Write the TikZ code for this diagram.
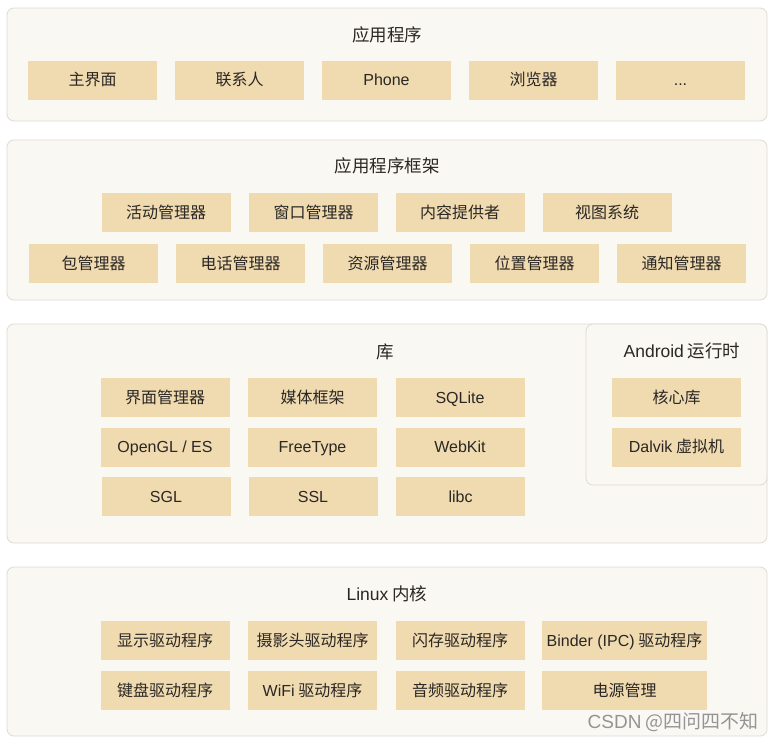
\documentclass[tikz,border=0pt]{standalone}
\usepackage{fontspec}
\setmainfont{Noto Sans CJK SC}
\newfontfamily\latf{Liberation Sans}
\newcommand{\lt}[1]{{\latf #1}}
\definecolor{panelfill}{HTML}{FAF8F2}
\definecolor{paneldraw}{HTML}{DEDBD3}
\definecolor{boxfill}{HTML}{F0DAB0}
\definecolor{txt}{HTML}{2A2724}
\begin{document}
\begin{tikzpicture}[x=1pt,y=-1pt,
  panel/.style={draw=paneldraw,fill=panelfill,rounded corners=7pt,line width=0.8pt},
  title/.style={text=txt,font=\fontsize{17.5}{20}\selectfont,inner sep=0pt,text height=14pt,text depth=2pt},
  bx/.style={fill=boxfill,text=txt,font=\fontsize{16}{19}\selectfont,inner sep=0pt,text height=13pt,text depth=2pt,minimum height=39pt,minimum width=129pt},
  wide/.style={bx,minimum width=165pt}]
\useasboundingbox (0,0) rectangle (774,742);
\fill[white] (0,0) rectangle (774,742);
% panel 1
\draw[panel] (7,8) rectangle (767,121);
\node[title] (t1) at (387,35) {应用程序};
\node[bx] (a1) at (92.5,80) {主界面};
\node[bx] (a2) at (239.5,80) {联系人};
\node[bx] (a3) at (386.5,80) {\lt{Phone}};
\node[bx] (a4) at (533.5,80) {浏览器};
\node[bx] (a5) at (680.5,80) {\lt{...}};
% panel 2
\draw[panel] (7,140) rectangle (767,300);
\node[title] (t2) at (387,166) {应用程序框架};
\node[bx] (f1) at (166,212.5) {活动管理器};
\node[bx] (f2) at (313.5,212.5) {窗口管理器};
\node[bx] (f3) at (460,212.5) {内容提供者};
\node[bx] (f4) at (607,212.5) {视图系统};
\node[bx] (g1) at (93.5,263.5) {包管理器};
\node[bx] (g2) at (240.5,263.5) {电话管理器};
\node[bx] (g3) at (387.5,263.5) {资源管理器};
\node[bx] (g4) at (534.5,263.5) {位置管理器};
\node[bx] (g5) at (681.5,263.5) {通知管理器};
% panel 3
\draw[panel] (7,324) rectangle (767,543);
\node[title] (t3) at (385,352) {库};
\node[bx] (l1) at (165,397.5) {界面管理器};
\node[bx] (l2) at (312.5,397.5) {媒体框架};
\node[bx] (l3) at (460,397.5) {\lt{SQLite}};
\node[bx] (l4) at (165,447) {\lt{OpenGL / ES}};
\node[bx] (l5) at (312.5,447) {\lt{FreeType}};
\node[bx] (l6) at (460,447) {\lt{WebKit}};
\node[bx] (l7) at (166,496.5) {\lt{SGL}};
\node[bx] (l8) at (313,496.5) {\lt{SSL}};
\node[bx] (l9) at (460.5,496.5) {\lt{libc}};
\draw[panel] (586,324) rectangle (767,485);
\node[title] (t4) at (682,351) {\lt{Android} 运行时};
\node[bx] (r1) at (676.5,397.5) {核心库};
\node[bx] (r2) at (676.5,447) {\lt{Dalvik} 虚拟机};
% panel 4
\draw[panel] (7,567) rectangle (767,736);
\node[title] (t5) at (387,594) {\lt{Linux} 内核};
\node[bx] (k1) at (165,640.5) {显示驱动程序};
\node[bx] (k2) at (312.5,640.5) {摄影头驱动程序};
\node[bx] (k3) at (460,640.5) {闪存驱动程序};
\node[wide] (k4) at (624.5,640.5) {\lt{Binder (IPC)} 驱动程序};
\node[bx] (k5) at (165,690.5) {键盘驱动程序};
\node[bx] (k6) at (312.5,690.5) {\lt{WiFi} 驱动程序};
\node[bx] (k7) at (460,690.5) {音频驱动程序};
\node[wide] (k8) at (624.5,690.5) {电源管理};
\node[text=black!42,font=\fontsize{19}{22}\selectfont,inner sep=0pt,anchor=east] (wm) at (759,722) {\lt{CSDN} @四问四不知};
\end{tikzpicture}
\end{document}
